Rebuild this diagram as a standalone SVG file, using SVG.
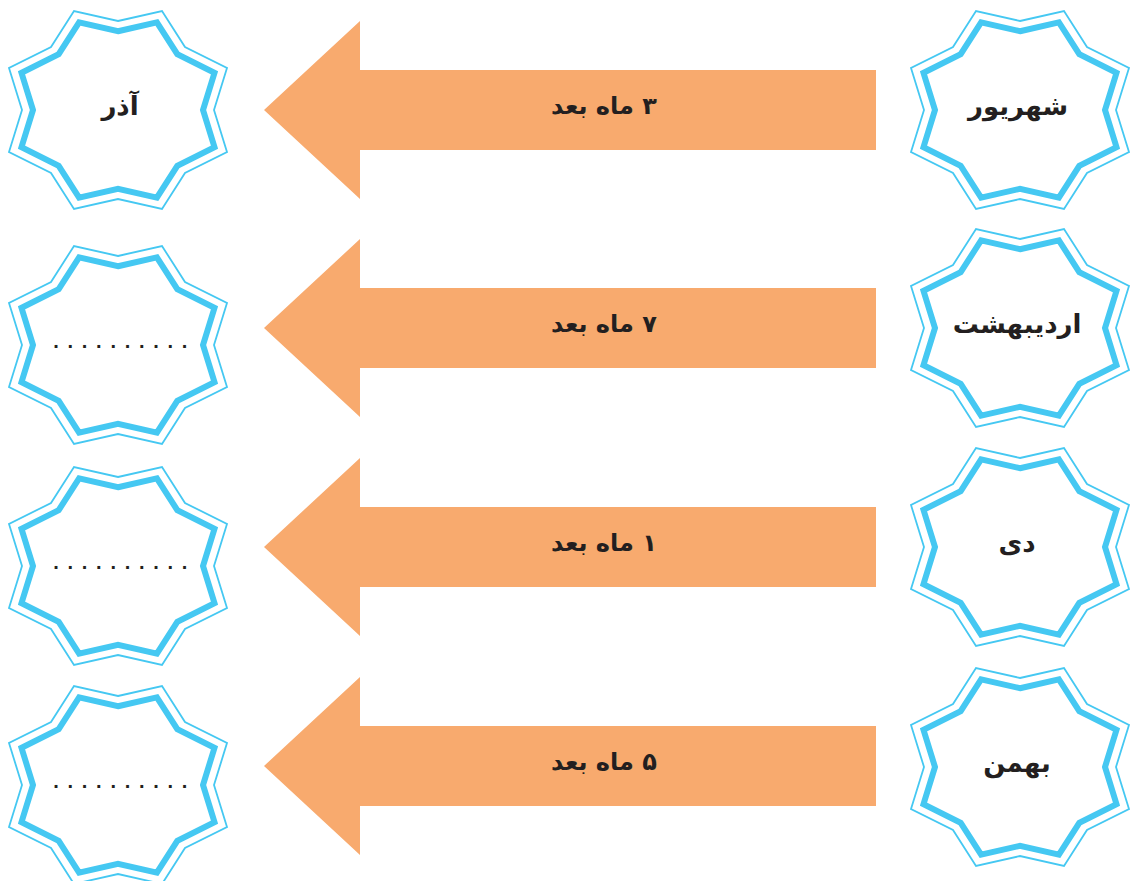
<svg xmlns="http://www.w3.org/2000/svg" xmlns:xlink="http://www.w3.org/1999/xlink" width="1131" height="881" viewBox="0 0 1131 881">
<style>
.so{fill:none;stroke:#45C8F2;stroke-width:1.8;stroke-linejoin:miter}
.si{fill:none;stroke:#45C8F2;stroke-width:6;stroke-linejoin:miter}
.arr{fill:#F8AA6E}
.lbl{font-family:"DejaVu Sans",sans-serif;font-weight:bold;font-size:24px;fill:#231F20;text-anchor:middle;direction:rtl}
.nm{font-size:26px}
.dots{font-family:"Liberation Sans",sans-serif;font-weight:bold;font-size:20px;fill:#231F20;letter-spacing:8.74px}
</style>
<defs>
<polygon id="outer" points="0,-89 44,-99 67,-63 109,-42 96,0 109,42 67,63 44,99 0,89 -44,99 -67,63 -109,42 -96,0 -109,-42 -67,-63 -44,-99"/>
<polygon id="inner" points="0,-78.8 38.9,-87.6 59.3,-55.8 96.5,-37.2 85,0 96.5,37.2 59.3,55.8 38.9,87.6 0,78.8 -38.9,87.6 -59.3,55.8 -96.5,37.2 -85,0 -96.5,-37.2 -59.3,-55.8 -38.9,-87.6"/>
<polygon id="arrow" points="264,0 360,-89 360,-40 876,-40 876,40 360,40 360,89"/>
</defs>
<rect width="1131" height="881" fill="#ffffff"/>
<g id="connectors">
<g id="arrow1"><use xlink:href="#arrow" class="arr" transform="translate(0,110)"/><text class="lbl" x="604" y="114">۳ ماه بعد</text></g>
<g id="arrow2"><use xlink:href="#arrow" class="arr" transform="translate(0,328)"/><text class="lbl" x="604" y="332">۷ ماه بعد</text></g>
<g id="arrow3"><use xlink:href="#arrow" class="arr" transform="translate(0,547)"/><text class="lbl" x="604" y="551">۱ ماه بعد</text></g>
<g id="arrow4"><use xlink:href="#arrow" class="arr" transform="translate(0,766)"/><text class="lbl" x="604" y="770">۵ ماه بعد</text></g>
</g>
<g id="src1" transform="translate(1020,110)"><use xlink:href="#outer" class="so"/><use xlink:href="#inner" class="si"/><text class="lbl nm" x="-2" y="5">شهریور</text></g>
<g id="src2" transform="translate(1020,328)"><use xlink:href="#outer" class="so"/><use xlink:href="#inner" class="si"/><text class="lbl nm" x="-3" y="5">اردیبهشت</text></g>
<g id="src3" transform="translate(1020,547)"><use xlink:href="#outer" class="so"/><use xlink:href="#inner" class="si"/><text class="lbl nm" x="-3" y="5">دی</text></g>
<g id="src4" transform="translate(1020,767)"><use xlink:href="#outer" class="so"/><use xlink:href="#inner" class="si"/><text class="lbl nm" x="-3" y="5">بهمن</text></g>
<g id="dst1" transform="translate(118,110)"><use xlink:href="#outer" class="so"/><use xlink:href="#inner" class="si"/><text class="lbl nm" x="2" y="5">آذر</text></g>
<g id="dst2" transform="translate(118,345)"><use xlink:href="#outer" class="so"/><use xlink:href="#inner" class="si"/><text class="dots" x="-64.8" y="2.5">..........</text></g>
<g id="dst3" transform="translate(118,566)"><use xlink:href="#outer" class="so"/><use xlink:href="#inner" class="si"/><text class="dots" x="-64.8" y="2.5">..........</text></g>
<g id="dst4" transform="translate(118,785)"><use xlink:href="#outer" class="so"/><use xlink:href="#inner" class="si"/><text class="dots" x="-64.8" y="2.5">..........</text></g>
</svg>
